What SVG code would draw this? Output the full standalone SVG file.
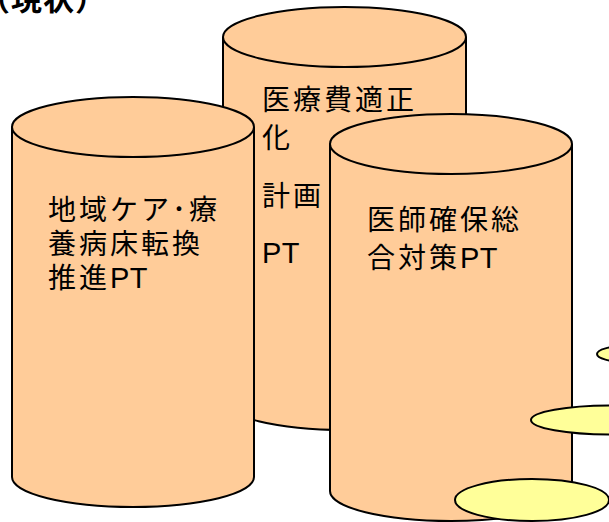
<svg xmlns="http://www.w3.org/2000/svg" width="609" height="522" viewBox="0 0 609 522">
<style>
.cyl{fill:#FFCC99;stroke:#000;stroke-width:2}
.yel{fill:#FFFF99;stroke:#000;stroke-width:2}
.t{font-family:"Liberation Sans","Noto Sans CJK JP",sans-serif;font-size:28px;letter-spacing:3px;fill:#000}
.l{font-size:29px;letter-spacing:0.5px}
.title{font-family:"Liberation Sans","Noto Sans CJK JP",sans-serif;font-size:31px;font-weight:bold;letter-spacing:1px;fill:#000}
</style>
<rect width="609" height="522" fill="#fff"/>
<text class="title" x="-21" y="10">（現状）</text>
<g id="cyl-iryohi">
<path class="cyl" d="M223,37 V400 A121.5,30 0 0 0 466,400 V37"/>
<ellipse class="cyl" cx="344.5" cy="37" rx="121.5" ry="30"/>
<text class="t" x="262" y="110">医療費適正</text>
<text class="t" x="262" y="148">化</text>
<text class="t" x="262" y="206">計画</text>
<text class="t" x="262" y="263"><tspan class="l">PT</tspan></text>
</g>
<g id="cyl-chiiki">
<path class="cyl" d="M12,127 V477 A121,30 0 0 0 254,477 V127"/>
<ellipse class="cyl" cx="133" cy="127" rx="121" ry="30"/>
<text class="t" x="48" y="220">地域ケア･療</text>
<text class="t" x="48" y="254">養病床転換</text>
<text class="t" x="48" y="288">推進<tspan class="l">PT</tspan></text>
</g>
<g id="cyl-ishi">
<path class="cyl" d="M330,144 V491 A121,30 0 0 0 572,491 V144"/>
<ellipse class="cyl" cx="451" cy="144" rx="121" ry="30"/>
<text class="t" x="367" y="230">医師確保総</text>
<text class="t" x="367" y="268">合対策<tspan class="l">PT</tspan></text>
</g>
<g id="ellipses">
<ellipse class="yel" cx="626" cy="354" rx="29" ry="8"/>
<ellipse class="yel" cx="611" cy="420" rx="80" ry="14.5"/>
<ellipse class="yel" cx="532" cy="500" rx="77" ry="21"/>
</g>
<g id="connectors"></g>
</svg>
